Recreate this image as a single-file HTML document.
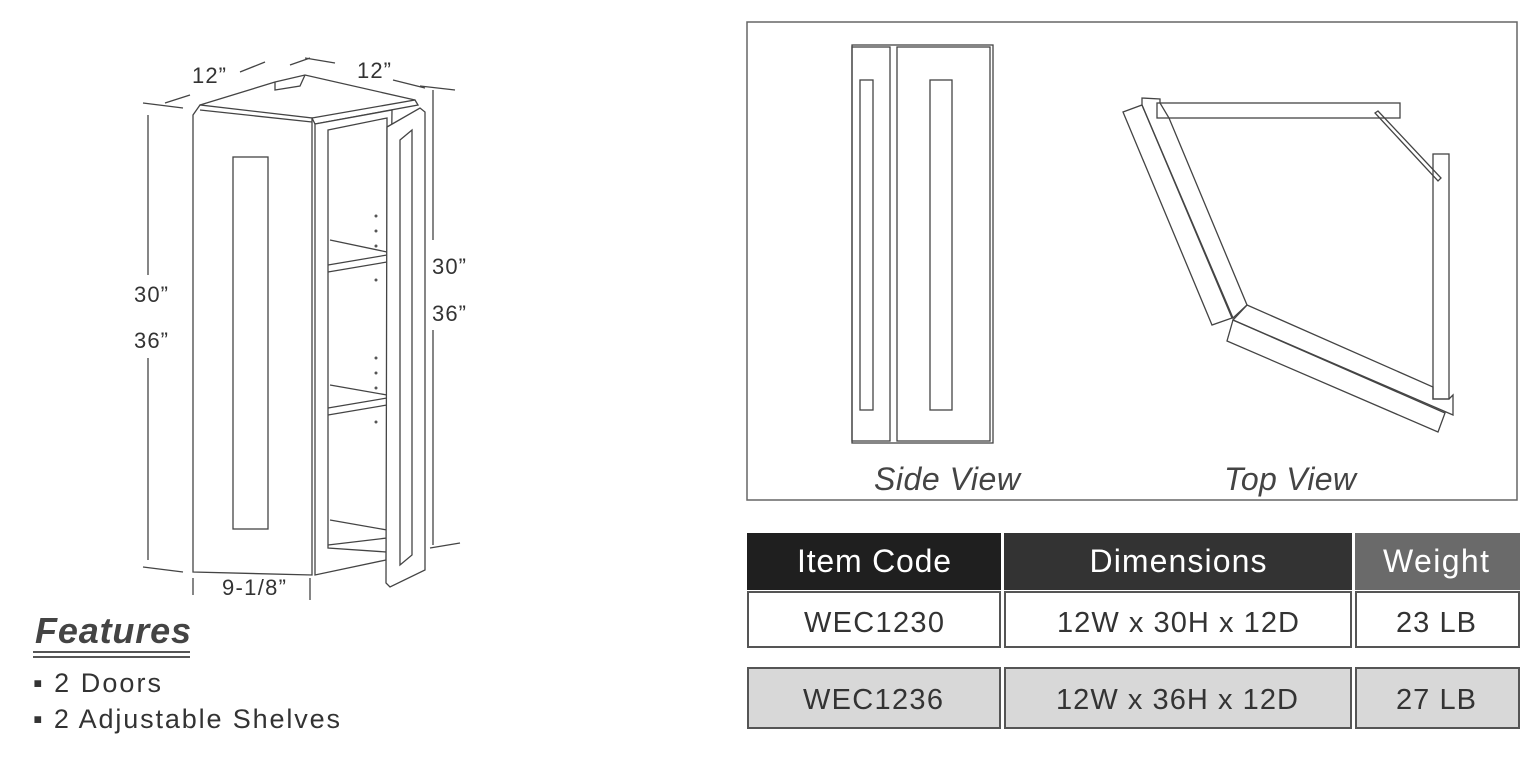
<!DOCTYPE html>
<html><head><meta charset="utf-8"><style>
html,body{margin:0;padding:0;background:#fff;}
svg{display:block;}
text{font-family:"Liberation Sans",Arial,sans-serif;}
</style></head><body>
<svg width="1536" height="759" viewBox="0 0 1536 759" xmlns="http://www.w3.org/2000/svg">
<g fill="none" stroke="#444" stroke-width="1.3">
<polygon points="193,115 200,105 312,118 312,575 193,572" fill="#fff"/>
<line x1="200" y1="110" x2="312" y2="122"/>
<rect x="233" y="157" width="35" height="372"/>
<polyline points="200,105 275,82 305,75 415,100"/>
<polyline points="275,82 275,90 300,86 305,75"/>
<polygon points="312,118 415,100 418,105 315,124"/>
<polygon points="315,124 392,110 386,560 315,575" fill="#fff"/>
<polygon points="328,130 387,118 387,552 328,548"/>
<polyline points="328,265 387,255"/>
<polyline points="328,272 387,262"/>
<polyline points="330,240 387,252"/>
<polyline points="328,408 387,398"/>
<polyline points="328,415 387,405"/>
<polyline points="330,385 387,395"/>
<polyline points="330,520 387,530"/>
<polyline points="328,545 387,538"/>
<polygon points="387,127 420,108 425,112 425,570 390,587 386,583" fill="#fff"/>
<polygon points="400,140 412,130 412,555 400,565"/>
<line x1="148" y1="115" x2="148" y2="275"/>
<line x1="148" y1="358" x2="148" y2="560"/>
<line x1="143" y1="103" x2="183" y2="108"/>
<line x1="143" y1="567" x2="183" y2="572"/>
<line x1="433" y1="90" x2="433" y2="240"/>
<line x1="433" y1="330" x2="433" y2="545"/>
<line x1="420" y1="86" x2="455" y2="90"/>
<line x1="430" y1="548" x2="460" y2="543"/>
<line x1="193" y1="578" x2="193" y2="595"/>
<line x1="310" y1="578" x2="310" y2="600"/>
<line x1="165" y1="103" x2="190" y2="95"/>
<line x1="240" y1="72" x2="265" y2="62"/>
<line x1="290" y1="65" x2="310" y2="58"/>
<line x1="305" y1="58" x2="335" y2="63"/>
<line x1="393" y1="80" x2="425" y2="88"/>
<line x1="33" y1="652" x2="190" y2="652" stroke="#555" stroke-width="2"/>
<line x1="33" y1="657" x2="190" y2="657" stroke="#555" stroke-width="2"/>
<rect x="747" y="22" width="770" height="478" stroke="#666" stroke-width="1.5"/>
<rect x="852" y="45" width="141" height="398"/>
<rect x="852" y="47" width="38" height="394"/>
<rect x="897" y="47" width="93" height="394"/>
<rect x="860" y="80" width="13" height="330"/>
<rect x="930" y="80" width="22" height="330"/>
<rect x="1157" y="103" width="243" height="15"/>
<polygon points="1375,113 1378,111 1441,178 1438,181"/>
<rect x="1433" y="154" width="16" height="245"/>
<polygon points="1123,112 1142,105 1232,318 1212,325"/>
<polygon points="1142,98 1160,99 1160,103 1169,118 1247,305 1233,318 1142,105"/>
<polygon points="1247,305 1433,387 1433,399 1449,399 1453,395 1453,415 1233,320"/>
<polygon points="1233,320 1227,341 1438,432 1445,413"/>
</g>
<g fill="#555">
<circle cx="376" cy="216" r="1.5"/><circle cx="376" cy="231" r="1.5"/><circle cx="376" cy="246" r="1.5"/><circle cx="376" cy="280" r="1.5"/>
<circle cx="376" cy="358" r="1.5"/><circle cx="376" cy="373" r="1.5"/><circle cx="376" cy="388" r="1.5"/><circle cx="376" cy="422" r="1.5"/>
</g>
<g fill="#333" font-size="22">
<text x="192" y="83" textLength="34">12”</text>
<text x="357" y="78" textLength="34">12”</text>
<text x="134" y="302" textLength="34">30”</text>
<text x="134" y="348" textLength="34">36”</text>
<text x="432" y="274" textLength="34">30”</text>
<text x="432" y="321" textLength="34">36”</text>
<text x="222" y="595" textLength="64">9-1/8”</text>
</g>
<text x="35" y="643" font-size="36" font-weight="bold" font-style="italic" fill="#444" textLength="156">Features</text>
<text x="33" y="692" font-size="27" fill="#333" textLength="128">▪ 2 Doors</text>
<text x="33" y="728" font-size="27" fill="#333" textLength="307">▪ 2 Adjustable Shelves</text>
<text x="947" y="490" font-size="32" font-style="italic" fill="#444" text-anchor="middle" textLength="146">Side View</text>
<text x="1290" y="490" font-size="32" font-style="italic" fill="#444" text-anchor="middle" textLength="132">Top View</text>
<rect x="747" y="533" width="254" height="57" fill="#1f1f1f"/>
<rect x="1004" y="533" width="348" height="57" fill="#333"/>
<rect x="1355" y="533" width="165" height="57" fill="#6a6a6a"/>
<g fill="#fff" font-size="32" text-anchor="middle">
<text x="874" y="572" textLength="154">Item Code</text>
<text x="1178" y="572" textLength="177">Dimensions</text>
<text x="1436" y="572" textLength="106">Weight</text>
</g>
<g stroke="#555" stroke-width="2">
<rect x="748" y="592" width="252" height="55" fill="#fff"/>
<rect x="1005" y="592" width="346" height="55" fill="#fff"/>
<rect x="1356" y="592" width="163" height="55" fill="#fff"/>
<rect x="748" y="668" width="252" height="60" fill="#d8d8d8"/>
<rect x="1005" y="668" width="346" height="60" fill="#d8d8d8"/>
<rect x="1356" y="668" width="163" height="60" fill="#d8d8d8"/>
</g>
<g fill="#333" font-size="29" text-anchor="middle">
<text x="874" y="632" textLength="140">WEC1230</text>
<text x="1178" y="632" textLength="242">12W x 30H x 12D</text>
<text x="1436" y="632" textLength="80">23 LB</text>
<text x="873" y="709" textLength="140">WEC1236</text>
<text x="1177" y="709" textLength="242">12W x 36H x 12D</text>
<text x="1436" y="709" textLength="80">27 LB</text>
</g>
</svg>
</body></html>
